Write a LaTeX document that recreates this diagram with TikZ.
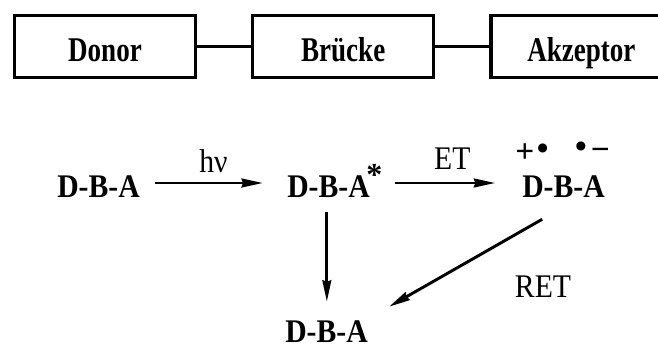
\documentclass[tikz,border=0pt]{standalone}
\usepackage{fontspec}
\usepackage{graphicx}
\setmainfont{Liberation Serif}
\usepackage{tikz}
\usetikzlibrary{arrows.meta,positioning}
\newcommand{\schmal}[2]{\scalebox{#1}[1]{#2}}
\tikzset{
  kasten/.style={draw,line width=2.4pt,minimum width=135.75pt,minimum height=46.5pt,
    inner sep=0pt,text height=22pt,text depth=0.25pt,
    font=\bfseries\fontsize{26pt}{28pt}\selectfont},
  linie/.style={line width=2pt},
  formel/.style={inner sep=0pt,text height=21pt,text depth=0pt,
    font=\bfseries\fontsize{24.75pt}{28pt}\selectfont},
  beschr/.style={inner sep=0pt,font=\fontsize{24.75pt}{28pt}\selectfont},
  ladung/.style={inner sep=0pt,font=\bfseries\fontsize{25pt}{26pt}\selectfont},
  pfeil/.style={line width=2.2pt,-{Stealth[length=16pt,width=6.5pt,inset=1pt]}},
}

\begin{document}
\begin{tikzpicture}[x=0.75pt,y=-0.75pt]
  \useasboundingbox (0,0) rectangle (658,347);
  % Bausteine
  \node[kasten] (donor) at (105,46.5) {\schmal{0.78}{Donor}};
  \node[kasten,right=40.5pt of donor] (bruecke) {\schmal{0.78}{Brücke}};
  \node[kasten,right=40.5pt of bruecke] (akzeptor) {\schmal{0.78}{Akzeptor}};
  \draw[linie] (donor) -- (bruecke);
  \draw[linie] (bruecke) -- (akzeptor);
  % Reaktionsschema
  \node[formel,anchor=base] (dba1) at (98.5,197) {\schmal{0.9}{D-B-A}};
  \node[formel,anchor=base west] (dba2) at (287,197)
    {\schmal{0.9}{D-B-A}\kern-2.5pt\raisebox{9pt}{\fontsize{24pt}{24pt}\selectfont *}};
  \node[formel,anchor=base west] (dba3) at (522,197) {\schmal{0.9}{D-B-A}};
  \node[formel,anchor=base west] (dba4) at (285,342) {\schmal{0.9}{D-B-A}};
  \node[ladung,above right=4.5pt and -5.25pt of dba3.north west] (dplus)
    {+\hspace{2pt}\raisebox{2pt}{•}};
  \node[ladung,above left=6pt and -3.75pt of dba3.north east] (aminus)
    {\raisebox{2pt}{•}\hspace{3pt}−};
  \draw[pfeil,shorten <=11.25pt,shorten >=18pt] (dba1.east)
    -- node[beschr,above=6.75pt] (hnu) {\schmal{0.9}{hν}} (dba2.west);
  \draw[pfeil,shorten <=9pt,shorten >=20pt] (dba2.east)
    -- node[beschr,above=9pt] (et) {\schmal{0.9}{ET}} (dba3.west);
  \draw[pfeil,shorten <=11.25pt,shorten >=9pt] ([xshift=-6pt]dba2.south)
    -- ([xshift=-6pt]dba2.south |- dba4.north);
  \draw[pfeil] ([xshift=-16pt,yshift=-16.5pt]dba3.south)
    -- ([xshift=15.75pt,yshift=5.25pt]dba4.north east);
  \node[beschr,anchor=base] (ret) at (543,297) {\schmal{0.9}{RET}};
\end{tikzpicture}
\end{document}
